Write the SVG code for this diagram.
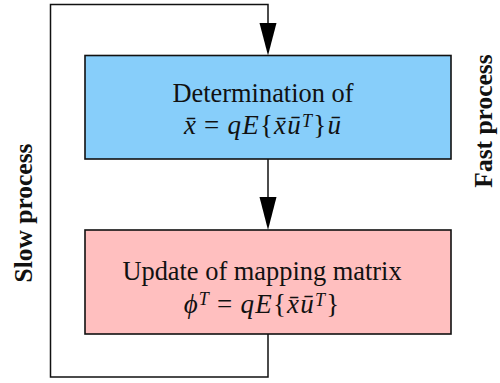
<svg xmlns="http://www.w3.org/2000/svg" width="500" height="383" viewBox="0 0 500 383">
<style>
.box{stroke:#111;stroke-width:1.6}
.conn{fill:none;stroke:#111;stroke-width:1.5}
.t{font-family:"Liberation Serif","Times New Roman",serif;font-size:26.4px;fill:#111}
.m{font-family:"Liberation Serif","Times New Roman",serif;font-size:27px;fill:#111;letter-spacing:1.2px}
.i{font-style:italic}
.b{font-weight:bold;font-size:25.5px}
.sup{font-size:18px;font-style:italic}
</style>
<rect width="500" height="383" fill="#fff"/>
<g id="connectors">
<path class="conn" d="M268,334 V377 H50.5 V4.5 H268 V24" />
<polygon points="259.5,23 276.5,23 268,55.5" fill="#000"/>
<path class="conn" d="M268,159 V198" />
<polygon points="259.5,197 276.5,197 268,230" fill="#000"/>
</g>
<g id="node-determination">
<rect class="box" x="85" y="55.5" width="366" height="103.5" fill="#87CEFA"/>
<text class="t" x="263" y="102" text-anchor="middle">Determination of</text>
<text class="m" x="263" y="134" text-anchor="middle"><tspan class="i">x̄</tspan><tspan dx="7">=</tspan><tspan class="i" dx="7">qE</tspan>{<tspan class="i">x̄ū</tspan><tspan class="sup" dy="-7">T</tspan><tspan dy="7">}</tspan><tspan class="i">ū</tspan></text>
</g>
<g id="node-update">
<rect class="box" x="85" y="230" width="366" height="104" fill="#FFBFBF"/>
<text class="t" x="262" y="280" text-anchor="middle">Update of mapping matrix</text>
<text class="m" x="262" y="313" text-anchor="middle"><tspan class="i">ϕ</tspan><tspan class="sup" dy="-8">T</tspan><tspan dy="8" dx="7">=</tspan><tspan class="i" dx="7">qE</tspan>{<tspan class="i">x̄ū</tspan><tspan class="sup" dy="-7">T</tspan><tspan dy="7">}</tspan></text>
</g>
<g id="label-slow">
<text class="t b" transform="translate(32,213) rotate(-90)" text-anchor="middle">Slow process</text>
</g>
<g id="label-fast">
<text class="t b" transform="translate(492,121) rotate(-90)" text-anchor="middle">Fast process</text>
</g>
</svg>
